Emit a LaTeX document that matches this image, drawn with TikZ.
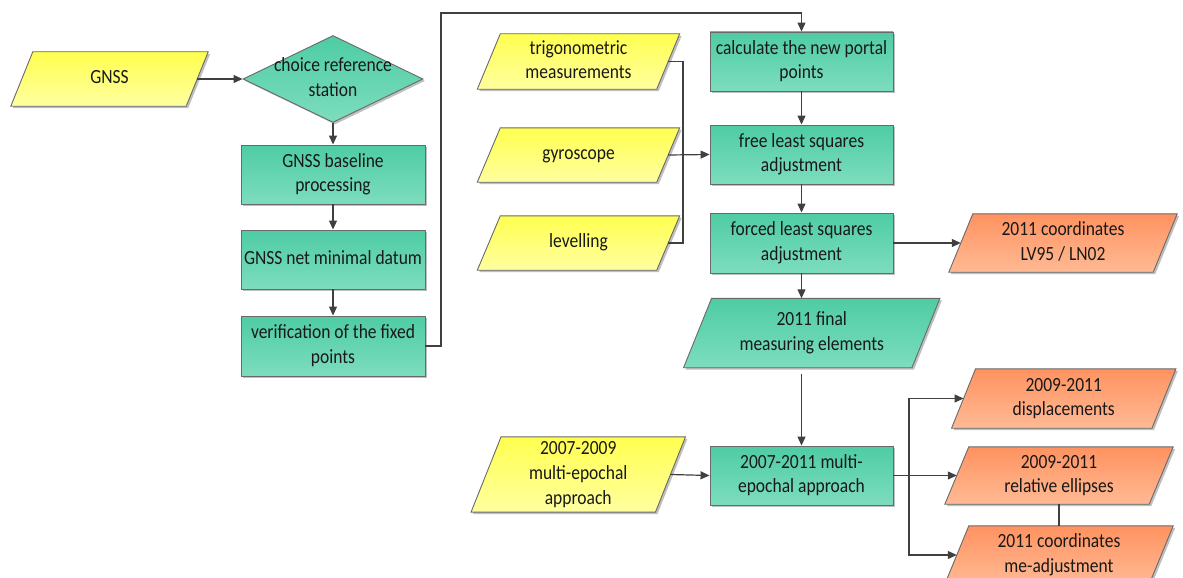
\documentclass[tikz,border=0pt]{standalone}
\usepackage{fontspec}
\setmainfont{Carlito}
\usetikzlibrary{shapes.geometric,arrows.meta,shadows}
\pgfdeclarelayer{background}
\pgfsetlayers{background,main}
\definecolor{ylT}{RGB}{255,255,80}
\definecolor{ylB}{RGB}{255,255,160}
\definecolor{tlT}{RGB}{78,204,164}
\definecolor{tlB}{RGB}{125,221,190}
\definecolor{orT}{RGB}{255,146,96}
\definecolor{orB}{RGB}{255,186,148}
\definecolor{edge}{RGB}{105,105,105}
\definecolor{wire}{RGB}{64,64,64}
\definecolor{ink}{RGB}{25,25,25}
\newcommand\mytxt[1]{\scalebox{1}[1.15]{\begin{tabular}{@{}c@{}}#1\end{tabular}}}
% name, x, y, mid width, height, half slant, colour style, text
\newcommand\parabox[8]{%
  \node[paratext, minimum width=#4pt, minimum height=#5pt] (#1) at (#2,#3) {\mytxt{#8}};
  \begin{pgfonlayer}{background}
    \path[base, #7] ([xshift=#6pt]#1.north west) -- ([xshift=#6pt]#1.north east)
      -- ([xshift=-#6pt]#1.south east) -- ([xshift=-#6pt]#1.south west) -- cycle;
  \end{pgfonlayer}}
\begin{document}
\begin{tikzpicture}[x=1pt,y=-1pt,
  base/.style={draw=edge, line width=0.9pt,
    drop shadow={shadow xshift=2pt, shadow yshift=-2pt, opacity=0.25, fill=black}},
  txtfont/.style={text=ink, align=center, font=\fontsize{17.5}{21.7}\selectfont},
  yellow/.style={top color=ylT, bottom color=ylB},
  teal/.style={top color=tlT, bottom color=tlB},
  orange/.style={top color=orT, bottom color=orB},
  procbox/.style={base, txtfont, teal, rectangle, inner sep=2pt, minimum width=183pt},
  paratext/.style={txtfont, rectangle, inner sep=0pt},
  wire/.style={draw=wire, line width=1.2pt},
  arr/.style={wire, -{Triangle[length=9pt,width=8pt]}},
  label/.style={txtfont, inner sep=0pt}
]
\useasboundingbox (0,0) rectangle (1183,578);
\clip (0,0) rectangle (1183,578);

% left column
\parabox{gnss}{109.5}{79}{175}{54}{11}{yellow}{GNSS}
\node[base, teal, diamond, minimum width=180pt, minimum height=87pt, inner sep=0pt] (choice) at (333,79) {};
\node[label] (choicetext) at (333,79) {\mytxt{choice reference\\station}};
\node[procbox, minimum width=184pt, minimum height=59pt] (baseline) at (333,174.5) {\mytxt{GNSS baseline\\processing}};
\node[procbox, minimum width=184pt, minimum height=59pt] (datum) at (333,259.5) {\mytxt{GNSS net minimal datum}};
\node[procbox, minimum width=184pt, minimum height=60pt] (verif) at (333,346) {\mytxt{verification of the fixed\\points}};

% inputs
\parabox{trig}{578.5}{61.5}{179}{55}{11.5}{yellow}{trigonometric\\measurements}
\parabox{gyro}{578.5}{155}{179}{54}{11.5}{yellow}{gyroscope}
\parabox{level}{578.5}{243}{179}{54}{11.5}{yellow}{levelling}
\parabox{epoch0709}{578.25}{474.5}{184}{73}{15}{yellow}{2007-2009\\multi-epochal\\approach}

% middle column
\node[procbox, minimum height=59pt] (calc) at (801.5,61.5) {\mytxt{calculate the new portal\\points}};
\node[procbox, minimum height=59pt] (free) at (801.5,154.5) {\mytxt{free least squares\\adjustment}};
\node[procbox, minimum height=60pt] (forced) at (801.5,243) {\mytxt{forced least squares\\adjustment}};
\parabox{final}{811.75}{333}{228}{69}{14}{teal}{2011 final\\measuring elements}
\node[procbox, minimum height=59pt] (multi) at (801.5,475.5) {\mytxt{2007-2011 multi-\\epochal approach}};

% outputs
\parabox{lv95}{1063}{243}{204}{58}{12}{orange}{2011 coordinates\\LV95 / LN02}
\parabox{disp}{1063.75}{398.5}{200}{59}{12}{orange}{2009-2011\\displacements}
\parabox{rel}{1059}{475.5}{204}{57}{12}{orange}{2009-2011\\relative ellipses}
\parabox{meadj}{1059}{555}{204}{58}{12}{orange}{2011 coordinates\\me-adjustment}

% connectors
\draw[arr] (gnss.east) -- (choice.west);
\draw[arr] (choice.south) -- (baseline.north);
\draw[arr] (baseline.south) -- (datum.north);
\draw[arr] (datum.south) -- (verif.north);
\coordinate (topturn) at (441,13);
\draw[arr] (verif.east) -| (topturn) -| (calc.north);

\coordinate (joinpt) at (683,155);
\draw[wire] (trig.east) -| (joinpt);
\draw[wire] (level.east) -| (joinpt);
\draw[arr] (gyro.east) -- (free.west);

\draw[arr] (calc.south) -- (free.north);
\draw[arr] (free.south) -- (forced.north);
\draw[arr] (forced.south) -- (forced.south |- final.north);
\draw[arr] (forced.east) -- (lv95.west);
\draw[arr, shorten <=6pt] (multi.north |- final.south) -- (multi.north);
\draw[arr] (epoch0709.east) -- (multi.west);

\coordinate (split) at (909,475.5);
\draw[wire] (multi.east) -- (split);
\draw[arr] (split) |- (disp.west);
\draw[arr] (split) -- (rel.west);
\draw[arr] (split) |- (meadj.west);
\draw[wire] (rel.south) -- (meadj.north);
\end{tikzpicture}
\end{document}
